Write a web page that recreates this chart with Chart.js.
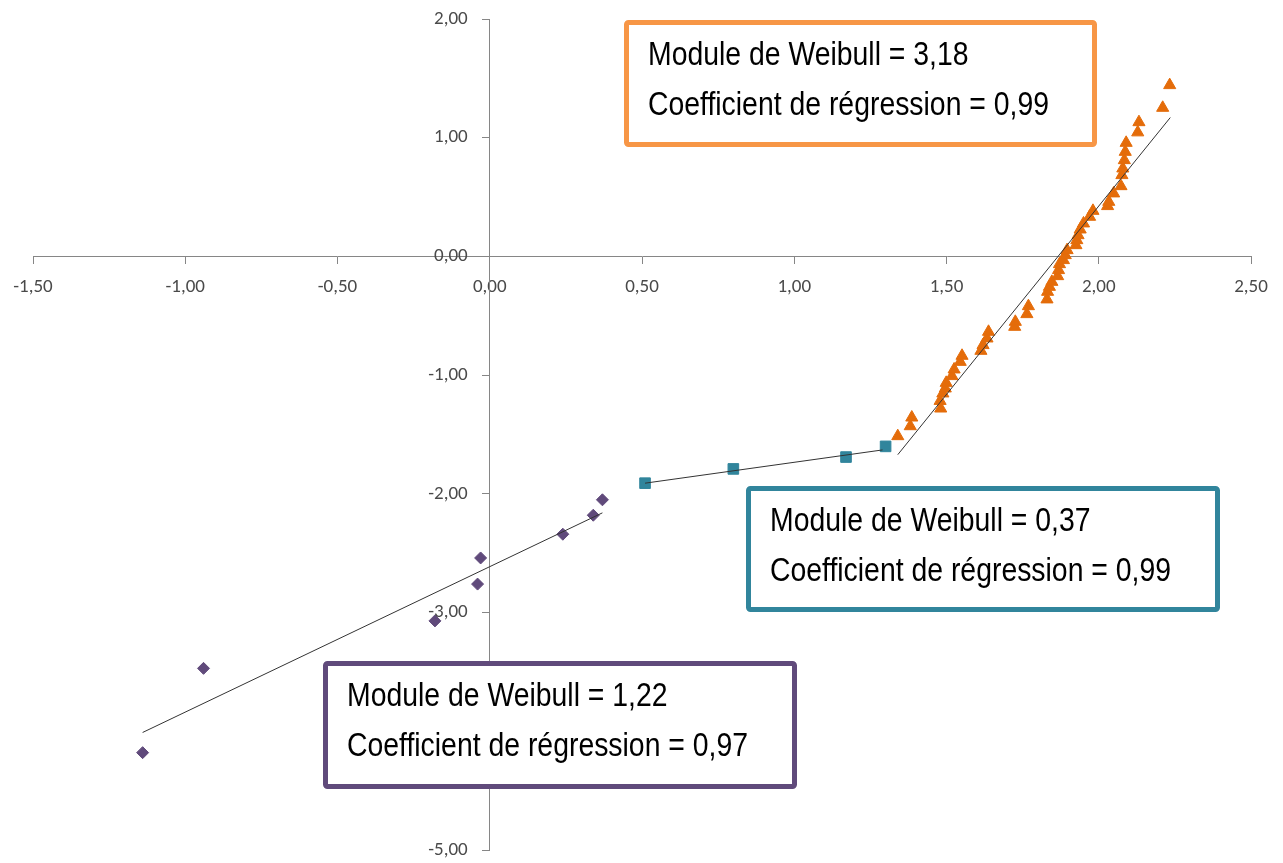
<!DOCTYPE html>
<html>
<head>
<meta charset="utf-8">
<script src="https://cdn.jsdelivr.net/npm/chart.js@4.4.1/dist/chart.umd.min.js"></script>
<style>
  html, body { margin: 0; padding: 0; background: #fff; }
  #wrap { width: 1283px; height: 863px; }
</style>
</head>
<body>
<div id="wrap"><canvas id="weibull"></canvas></div>
<script>
// Points (ln(sigma), ln(ln(1/(1-P))))
const purpleX = [-1.14, -0.94, -0.18, -0.04, -0.03, 0.24, 0.34, 0.37];
const purpleY = [-4.18, -3.47, -3.07, -2.76, -2.54, -2.34, -2.18, -2.05];

const tealX = [0.51, 0.80, 1.17, 1.30];
const tealY = [-1.91, -1.79, -1.69, -1.60];

const orangeX = [1.340, 1.381, 1.386, 1.481, 1.479, 1.488, 1.496, 1.499, 1.518, 1.525,
    1.545, 1.551, 1.613, 1.620, 1.633, 1.638, 1.724, 1.726, 1.764, 1.769,
    1.830, 1.832, 1.838, 1.846, 1.865, 1.868, 1.871, 1.884, 1.890, 1.896,
    1.925, 1.928, 1.932, 1.939, 1.950, 1.970, 1.981, 2.029, 2.033, 2.049,
    2.073, 2.076, 2.079, 2.084, 2.087, 2.090, 2.128, 2.132, 2.210, 2.233];
const orangeY = [-1.514, -1.430, -1.357, -1.281, -1.217, -1.154, -1.112, -1.065, -1.008, -0.952,
    -0.888, -0.837, -0.795, -0.747, -0.691, -0.635, -0.593, -0.551, -0.486, -0.419,
    -0.362, -0.298, -0.256, -0.214, -0.166, -0.115, -0.065, -0.031, 0.011, 0.053,
    0.095, 0.137, 0.179, 0.227, 0.278, 0.334, 0.384, 0.424, 0.460, 0.531,
    0.592, 0.685, 0.741, 0.811, 0.881, 0.957, 1.045, 1.131, 1.252, 1.443];

// Droites de tendance (extremites lues)
const purpleFitX = [-1.14, 0.37];
const purpleFitY = [-4.01, -2.16];
const tealFitX = [0.51, 1.29];
const tealFitY = [-1.91, -1.63];
const orangeFitX = [1.34, 2.235];
const orangeFitY = [-1.67, 1.17];

// Axes
const xTicks = [-1.5, -1.0, -0.5, 0.0, 0.5, 1.0, 1.5, 2.0, 2.5];
const yTicks = [-5, -4, -3, -2, -1, 0, 1, 2];

// Textes des cadres
const moduleValues = ["3,18", "0,37", "1,22"];
const coefValues = ["0,99", "0,99", "0,97"];

const PURPLE = "#604A7B";
const TEAL = "#31859C";
const ORANGE = "#E46C0A";
const AXIS = "#868686";
const TICK_TEXT = "#4a4a4a";
const TICK_FONT = "19px Carlito, Lato";

function toPoints(xs, ys) {
    return xs.map((x, i) => ({ x: x, y: ys[i] }));
}

function fmt(v) {
    return Number(v).toFixed(2).replace(".", ",");
}

// cadres de texte (position en pixels, couleur de bordure)
const boxes = [
    { x: 624, y: 20, w: 473, h: 127, color: "#F79646" },
    { x: 746, y: 486, w: 474, h: 126, color: TEAL },
    { x: 323, y: 661, w: 474, h: 128, color: PURPLE }
];

// Police etroite : Liberation Sans Narrow si dispo, sinon Liberation Sans compressee
function pickNarrowFont(ctx) {
    ctx.font = "33px 'Liberation Sans Narrow', monospace";
    const a = ctx.measureText("Module de Weibull").width;
    ctx.font = "33px monospace";
    const b = ctx.measureText("Module de Weibull").width;
    if (Math.abs(a - b) > 0.5) return { family: "'Liberation Sans Narrow'", scale: 1.05 };
    return { family: "'Liberation Sans', Arial", scale: 0.86 };
}

// Etiquettes de l'axe Y : a gauche de l'axe (Chart.js les colle sinon contre l'axe)
const yLabelPlugin = {
    id: "yLabels",
    afterDatasetsDraw(chart) {
        const ctx = chart.ctx;
        const xs = chart.scales.x;
        const ys = chart.scales.y;
        const x0 = xs.getPixelForValue(0);
        ctx.save();
        ctx.font = TICK_FONT;
        ctx.fillStyle = TICK_TEXT;
        ctx.textAlign = "right";
        ctx.textBaseline = "middle";
        yTicks.forEach(v => {
            ctx.fillText(fmt(v), x0 - 22, ys.getPixelForValue(v));
        });
        ctx.restore();
    }
};

const textBoxPlugin = {
    id: "textBoxes",
    afterDraw(chart) {
        const ctx = chart.ctx;
        const nf = pickNarrowFont(ctx);
        boxes.forEach((b, i) => {
            ctx.save();
            ctx.lineWidth = 5;
            ctx.strokeStyle = b.color;
            ctx.fillStyle = "#ffffff";
            ctx.beginPath();
            ctx.roundRect(b.x + 2.5, b.y + 2.5, b.w - 5, b.h - 5, 2);
            ctx.fill();
            ctx.stroke();

            ctx.fillStyle = "#000000";
            ctx.font = "33px " + nf.family;
            ctx.textBaseline = "alphabetic";
            ctx.textAlign = "left";
            ctx.translate(b.x + 24, b.y);
            ctx.scale(nf.scale, 1);
            ctx.fillText("Module de Weibull = " + moduleValues[i], 0, 45);
            ctx.fillText("Coefficient de régression = " + coefValues[i], 0, 95);
            ctx.restore();
        });
    }
};

const lineStyle = {
    showLine: true,
    pointRadius: 0,
    borderColor: "#333333",
    borderWidth: 1,
    order: 0
};

new Chart(document.getElementById("weibull"), {
    type: "scatter",
    data: {
        datasets: [
            Object.assign({ label: "fit1", data: toPoints(purpleFitX, purpleFitY) }, lineStyle),
            Object.assign({ label: "fit2", data: toPoints(tealFitX, tealFitY) }, lineStyle),
            Object.assign({ label: "fit3", data: toPoints(orangeFitX, orangeFitY) }, lineStyle),
            {
                label: "Serie 1",
                data: toPoints(purpleX, purpleY),
                pointStyle: "rectRot",
                pointRadius: 6,
                backgroundColor: PURPLE,
                borderColor: PURPLE,
                borderWidth: 1,
                order: 1
            },
            {
                label: "Serie 2",
                data: toPoints(tealX, tealY),
                pointStyle: "rect",
                pointRadius: 7.5,
                backgroundColor: TEAL,
                borderColor: TEAL,
                borderWidth: 1,
                order: 1
            },
            {
                label: "Serie 3",
                data: toPoints(orangeX, orangeY),
                pointStyle: "triangle",
                pointRadius: 7,
                backgroundColor: ORANGE,
                borderColor: ORANGE,
                borderWidth: 1,
                order: 1
            }
        ]
    },
    options: {
        responsive: true,
        maintainAspectRatio: false,
        animation: false,
        layout: { padding: { left: 33, right: 32, top: 19, bottom: 13 } },
        plugins: {
            legend: { display: false },
            tooltip: { enabled: false }
        },
        scales: {
            x: {
                type: "linear",
                position: { y: 0 },
                min: xTicks[0],
                max: xTicks[xTicks.length - 1],
                afterBuildTicks: (axis) => { axis.ticks = xTicks.map(v => ({ value: v })); },
                ticks: {
                    callback: fmt,
                    color: TICK_TEXT,
                    font: { family: "Carlito, Lato", size: 19 },
                    padding: 12,
                    maxRotation: 0,
                    autoSkip: false
                },
                grid: { drawOnChartArea: false, drawTicks: true, tickLength: 7, color: AXIS },
                border: { display: true, color: AXIS, width: 1 }
            },
            y: {
                type: "linear",
                position: { x: 0 },
                min: yTicks[0],
                max: yTicks[yTicks.length - 1],
                afterBuildTicks: (axis) => { axis.ticks = yTicks.map(v => ({ value: v })); },
                ticks: { display: false },
                grid: { drawOnChartArea: false, drawTicks: true, tickLength: 7, color: AXIS },
                border: { display: true, color: AXIS, width: 1 }
            }
        }
    },
    plugins: [yLabelPlugin, textBoxPlugin]
});
</script>
</body>
</html>
